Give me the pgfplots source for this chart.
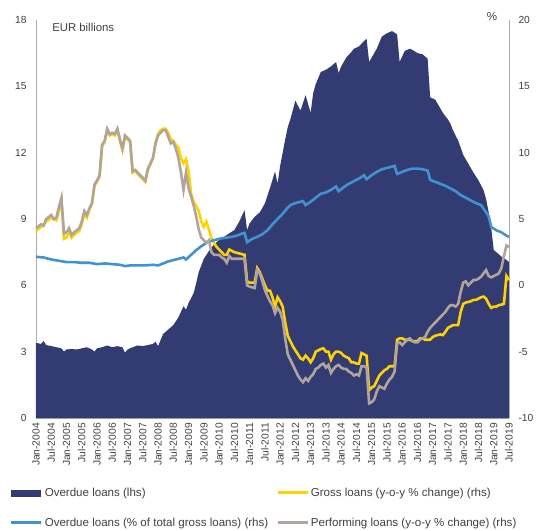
\documentclass[border=0pt]{standalone}
\usepackage{fontspec}
\setmainfont{Liberation Sans}
\usepackage{pgfplots}
\pgfplotsset{compat=1.18}
\definecolor{navy}{RGB}{51,59,115}
\definecolor{ovblue}{RGB}{66,146,210}
\definecolor{gyellow}{RGB}{255,210,0}
\definecolor{ptaupe}{RGB}{176,164,156}
\definecolor{txtgray}{RGB}{64,64,64}
\definecolor{axgray}{RGB}{170,170,170}
\newcommand{\f}{\fontsize{10.3}{12}\selectfont}
\newcommand{\fl}{\fontsize{11.6}{13}\selectfont}
\pgfplotsset{
  common/.style={
    width=473bp, height=398bp, scale only axis,
    at={(0,0)}, anchor=south west,
    xmin=0, xmax=186,
    tick style={draw=none},
    axis line style={draw=axgray, line width=0.8bp, -},
    ticklabel style={font=\f, text=txtgray},
    /pgf/number format/assume math mode=true,
  }
}
\begin{document}
\begin{tikzpicture}
\useasboundingbox (-36bp,-113bp) rectangle (503bp,418bp);
\begin{axis}[common,
  ymin=0, ymax=18, ytick={0,3,...,18},
  axis y line*=left, axis x line*=bottom,
  xtick={0,6,...,186},
  xticklabels={Jan-2004,Jul-2004,Jan-2005,Jul-2005,Jan-2006,Jul-2006,Jan-2007,Jul-2007,Jan-2008,Jul-2008,Jan-2009,Jul-2009,Jan-2010,Jul-2010,Jan-2011,Jul-2011,Jan-2012,Jul-2012,Jan-2013,Jul-2013,Jan-2014,Jul-2014,Jan-2015,Jul-2015,Jan-2016,Jul-2016,Jan-2017,Jul-2017,Jan-2018,Jul-2018,Jan-2019,Jul-2019},
  x tick label style={rotate=90, anchor=east, inner sep=0bp, xshift=-0bp, yshift=0bp},
  xticklabel shift=5bp,
  yticklabel style={xshift=-6bp},
  clip=false,
]
\addplot[fill=navy, draw=none] table {
0 3.40
2 3.35
3 3.48
4 3.30
6 3.25
8 3.20
10 3.15
11 3.00
12 3.10
14 3.12
16 3.10
18 3.15
20 3.20
22 3.10
23 3.00
24 3.15
26 3.20
28 3.28
30 3.20
32 3.25
34 3.20
35 2.95
36 3.10
38 3.20
40 3.28
42 3.25
44 3.30
46 3.35
47 3.45
48 3.25
50 3.80
52 4.00
54 4.20
56 4.55
58 5.05
59 4.90
60 5.20
62 5.65
63 6.10
64 6.60
65 6.90
66 7.20
68 7.55
70 7.85
72 8.05
74 8.20
76 8.35
78 8.50
80 8.90
82 9.40
83 8.50
84 8.80
86 9.10
88 9.30
90 9.70
92 10.40
94 11.15
95 10.60
96 11.40
97 12.00
98 12.60
99 13.15
100 13.50
102 14.35
104 13.90
106 14.60
107 14.20
108 13.80
109 14.70
110 15.10
112 15.65
114 15.75
116 15.90
118 16.10
119 15.60
120 15.90
122 16.30
124 16.55
125 16.70
127 16.80
129 17.05
130 17.15
131 16.10
133 16.50
134 16.70
136 17.25
138 17.40
140 17.50
142 17.35
143 16.10
145 16.60
147 16.70
148 16.65
150 16.50
152 16.45
154 16.25
155 14.50
157 14.40
159 14.00
160 13.80
162 13.50
163 13.30
164 13.00
166 12.55
168 11.90
170 11.50
172 11.10
174 10.75
176 10.30
177 9.90
178 9.30
179 8.60
180 7.60
181 7.50
183 7.30
185 7.15
186 7.05
} \closedcycle;
\node[anchor=west, inner sep=0, font=\fontsize{11.4}{13}\selectfont, text=txtgray] at (rel axis cs:0.034,0.981) {EUR billions};
\end{axis}
\begin{axis}[common,
  ymin=-10, ymax=20, ytick={-10,-5,...,20},
  axis y line*=right, axis x line=none,
  yticklabel style={xshift=6bp},
  clip=false,
  legend columns=2,
  legend style={draw=none, fill=none, font=\fl, text=txtgray,
    at={(-0.055,-0.17)}, anchor=north west, inner sep=0pt,
    row sep=16bp,
    /tikz/every even column/.append style={column sep=6bp}},
  legend cell align=left,
]
\addplot[gyellow, line width=2.6bp, forget plot] table {
0 4.1
2 4.4
4 4.8
6 5.1
8 4.9
9 5.6
10 6.4
11 3.5
12 3.6
13 4.0
14 3.6
15 3.8
17 4.1
18 4.6
19 5.4
20 5.1
21 5.7
22 6.1
23 7.5
24 7.8
25 8.2
26 10.5
27 10.8
28 11.7
29 11.3
30 11.4
31 11.3
32 11.7
33 10.9
34 10.2
35 11.2
36 11.0
37 10.8
38 8.5
39 8.6
40 8.4
41 8.2
42 8.0
43 7.8
44 8.7
45 9.1
46 9.6
47 10.7
48 11.4
49 11.7
50 11.8
51 11.8
52 11.5
53 11.0
54 10.9
55 10.6
56 10.4
57 9.6
58 9.2
59 9.5
60 8.6
61 6.9
62 6.3
63 6.0
64 5.6
65 4.8
66 4.4
67 4.8
68 4.2
69 3.6
70 3.2
71 2.9
72 2.7
73 2.5
74 2.3
75 2.3
76 2.7
77 2.6
78 2.5
80 2.4
82 2.3
83 0.3
84 0.2
86 0.2
87 1.3
88 1.0
89 0.5
90 0.0
91 -0.4
92 -0.4
93 -0.9
94 -1.6
95 -0.9
96 -1.2
97 -1.6
98 -2.8
99 -3.8
100 -4.2
101 -4.6
102 -4.9
103 -5.2
104 -5.5
105 -5.6
106 -5.3
107 -5.5
108 -5.8
109 -5.5
110 -5.0
111 -4.9
112 -4.8
113 -4.75
114 -5.0
115 -5.0
116 -5.6
117 -5.2
118 -5.0
119 -5.0
120 -5.1
121 -5.3
122 -5.4
123 -5.5
124 -5.8
125 -5.8
126 -5.9
127 -5.9
128 -5.1
129 -5.2
130 -5.3
131 -7.9
132 -7.7
133 -7.6
134 -7.2
135 -6.8
136 -6.6
137 -6.4
138 -6.3
139 -6.1
140 -6.1
141 -6.1
142 -4.1
143 -4.0
144 -4.0
145 -4.1
146 -4.1
147 -4.1
148 -4.2
149 -4.2
150 -4.2
151 -4.0
152 -4.0
153 -4.1
154 -4.1
155 -4.1
156 -3.9
157 -3.8
158 -3.75
159 -3.7
160 -3.75
161 -3.5
162 -3.2
163 -3.1
164 -3.0
165 -3.0
166 -3.0
167 -2.0
168 -1.4
169 -1.3
170 -1.25
171 -1.2
172 -1.1
173 -1.1
174 -1.0
175 -0.9
176 -0.85
177 -1.0
178 -1.4
179 -1.7
180 -1.6
181 -1.6
182 -1.5
183 -1.45
184 -1.4
185 0.7
186 0.4
};
\addplot[ovblue, line width=2.6bp, forget plot] table {
0 2.15
3 2.10
6 1.95
9 1.85
12 1.75
15 1.75
18 1.70
21 1.70
24 1.60
27 1.65
30 1.60
33 1.55
35 1.45
37 1.50
40 1.50
43 1.50
46 1.55
48 1.50
50 1.65
52 1.80
54 1.90
56 2.00
58 2.10
59 1.95
61 2.30
63 2.65
65 2.95
67 3.20
69 3.35
71 3.45
73 3.55
75 3.60
77 3.65
79 3.75
81 3.90
82 3.95
83 3.25
85 3.50
87 3.65
89 3.85
91 4.15
93 4.60
95 5.00
97 5.40
99 5.85
100 6.05
102 6.20
104 6.30
105 6.35
106 6.05
108 6.30
110 6.60
112 6.90
114 7.00
116 7.20
118 7.45
119 7.10
121 7.40
123 7.65
125 7.85
127 8.05
129 8.30
130 8.00
132 8.30
134 8.55
136 8.75
138 8.85
140 8.95
141 9.00
142 8.40
144 8.55
146 8.70
148 8.80
150 8.80
152 8.75
154 8.65
155 7.95
157 7.80
159 7.65
161 7.50
163 7.30
165 7.10
167 6.80
169 6.60
171 6.40
173 6.20
175 6.05
177 5.50
178 5.20
179 4.40
181 4.15
183 4.00
185 3.75
186 3.65
};
\addplot[ptaupe, line width=2.6bp, forget plot] table {
0 4.3
2 4.6
3 4.5
4 5.0
6 5.3
7 5.0
8 5.1
9 5.9
10 6.6
11 3.9
12 4.0
13 4.3
14 3.8
15 4.0
17 4.3
18 4.8
19 5.6
20 5.3
21 5.8
22 6.2
23 7.6
24 7.9
25 8.3
26 10.6
27 10.9
28 11.8
29 11.4
30 11.5
31 11.4
32 11.8
33 11.0
34 10.3
35 11.3
36 11.1
37 10.9
38 8.6
39 8.7
40 8.5
41 8.3
42 8.1
43 7.9
44 8.8
45 9.2
46 9.6
47 10.7
48 11.3
49 11.5
50 11.7
51 11.7
52 11.2
53 10.7
54 10.8
55 10.3
56 9.6
57 8.5
58 7.2
59 8.5
60 7.3
61 6.7
62 6.0
63 5.2
64 4.2
65 3.6
66 3.4
67 3.2
68 3.4
69 2.5
70 2.3
71 2.3
72 2.3
73 2.1
74 2.0
75 1.7
76 2.2
77 2.0
78 2.0
80 2.0
82 2.0
83 0.0
84 -0.1
86 -0.2
87 1.15
88 0.9
89 0.3
90 -0.35
91 -0.8
92 -1.2
93 -1.5
94 -2.1
95 -1.7
96 -2.0
97 -2.6
98 -4.0
99 -5.2
100 -5.6
101 -6.0
102 -6.4
103 -6.8
104 -7.1
105 -7.3
106 -7.0
107 -7.2
108 -6.9
109 -6.7
110 -6.3
111 -6.2
112 -6.0
113 -5.9
114 -6.2
115 -6.0
116 -6.6
117 -6.3
118 -6.1
119 -6.0
120 -6.2
121 -6.3
122 -6.3
123 -6.5
124 -6.6
125 -6.8
126 -6.7
127 -6.8
128 -6.1
129 -6.1
130 -6.2
131 -8.9
132 -8.8
133 -8.6
134 -8.0
135 -7.6
136 -7.7
137 -7.8
138 -7.4
139 -7.1
140 -6.9
141 -6.5
142 -4.4
143 -4.3
144 -4.5
145 -4.3
146 -4.1
147 -4.0
148 -4.2
149 -4.3
150 -4.3
151 -4.1
152 -4.0
153 -3.9
154 -3.5
155 -3.2
156 -3.0
157 -2.8
158 -2.6
159 -2.4
160 -2.2
161 -2.0
162 -1.7
163 -1.5
164 -1.5
165 -1.6
166 -1.4
167 -0.5
168 0.2
169 0.3
170 0.0
171 0.2
172 0.4
173 0.4
174 0.5
175 0.65
176 0.9
177 1.15
178 0.7
179 0.6
180 0.7
181 0.8
182 0.9
183 1.3
184 2.2
185 3.0
186 2.9
};
\addlegendimage{legend image code/.code={\fill[navy] (0bp,-3bp) rectangle (29bp,3bp);}}
\addlegendentry{Overdue loans (lhs)}
\addlegendimage{legend image code/.code={\draw[gyellow, line width=2.6bp] (0bp,0bp) -- (30bp,0bp);}}
\addlegendentry{Gross loans (y-o-y \% change) (rhs)}
\addlegendimage{legend image code/.code={\draw[ovblue, line width=2.6bp] (0bp,0bp) -- (30bp,0bp);}}
\addlegendentry{Overdue loans (\% of total gross loans) (rhs)}
\addlegendimage{legend image code/.code={\draw[ptaupe, line width=2.6bp] (0bp,0bp) -- (30bp,0bp);}}
\addlegendentry{Performing loans (y-o-y \% change) (rhs)}
\node[inner sep=0, font=\fl, text=txtgray] at (rel axis cs:0.964,1.008) {\%};
\end{axis}
\end{tikzpicture}
\end{document}
